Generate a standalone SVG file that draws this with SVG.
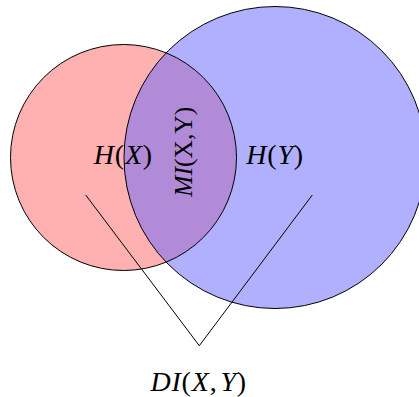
<svg xmlns="http://www.w3.org/2000/svg" width="419" height="397" viewBox="0 0 419 397">
  <style>
    .lbl { font-family: "Liberation Serif", "Times New Roman", serif; font-size: 28px; fill: #000; letter-spacing: 0.8px; }
    .rot { font-size: 25.5px; letter-spacing: 0; }
    .it { font-style: italic; }
    .edge { fill: none; stroke: #000; stroke-width: 1; }
    .outline { fill: none; stroke: #000; stroke-width: 1; }
  </style>
  <rect width="419" height="397" fill="#ffffff"/>
  <g id="HX">
    <circle cx="123.5" cy="157.5" r="113" fill="#ffb0b0"/>
  </g>
  <g id="HY">
    <circle cx="275" cy="157.5" r="151" fill="#b0b0ff"/>
  </g>
  <g id="MI">
    <path d="M166.14,52.9 A113,113 0 0 1 166.14,262.1 A151,151 0 0 1 166.14,52.9 Z" fill="#b18bd8"/>
  </g>
  <g id="outlines">
    <circle class="outline" cx="123.5" cy="157.5" r="113"/>
    <circle class="outline" cx="275" cy="157.5" r="151"/>
  </g>
  <g id="connectors">
    <polyline class="edge" points="85.7,195 199.3,345.7 312.3,195"/>
  </g>
  <g id="label-HX">
    <text class="lbl" x="123.4" y="164.3" text-anchor="middle"><tspan class="it">H</tspan>(<tspan class="it">X</tspan>)</text>
  </g>
  <g id="label-HY">
    <text class="lbl" x="275.1" y="164.3" text-anchor="middle"><tspan class="it">H</tspan>(<tspan class="it">Y</tspan>)</text>
  </g>
  <g id="label-MI">
    <text class="lbl rot" transform="translate(192.3,151.7) rotate(-90)" text-anchor="middle"><tspan class="it">MI</tspan>(X,Y)</text>
  </g>
  <g id="label-DI">
    <text class="lbl" x="198.7" y="390.5" text-anchor="middle"><tspan class="it">DI</tspan>(<tspan class="it">X</tspan>,<tspan class="it" dx="3">Y</tspan>)</text>
  </g>
</svg>
